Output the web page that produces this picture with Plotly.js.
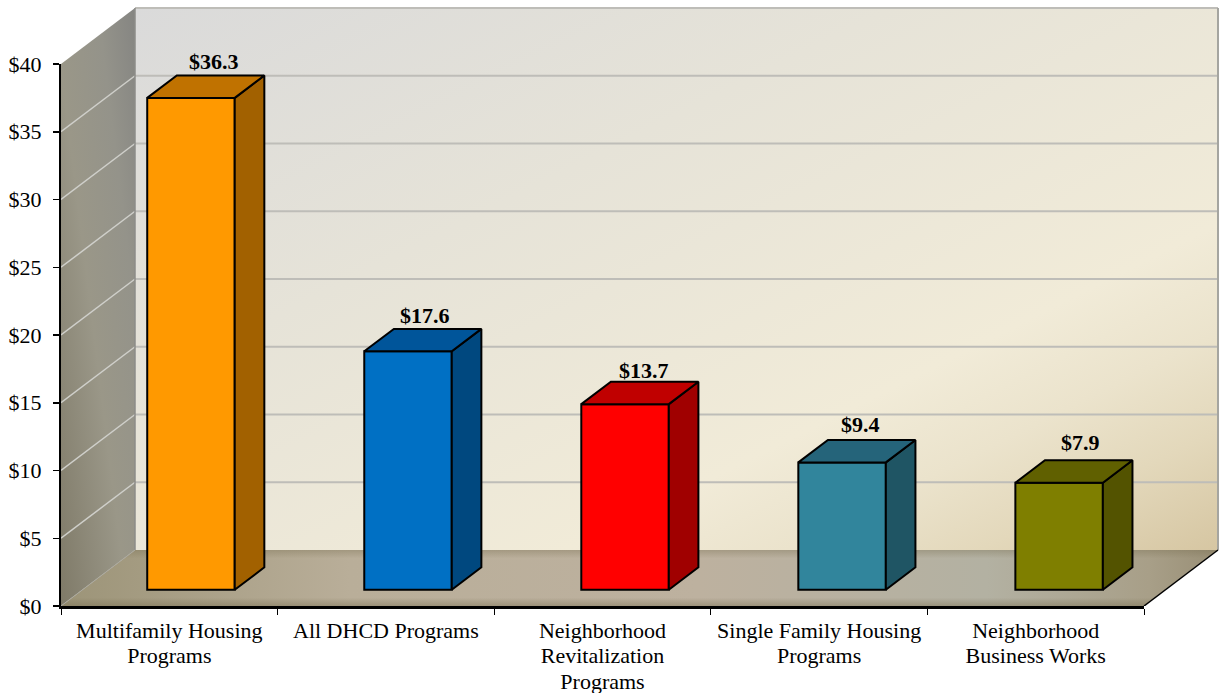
<!DOCTYPE html>
<html><head><meta charset="utf-8">
<script src="https://cdn.plot.ly/plotly-3.0.1.min.js"></script>
<style>html,body{margin:0;padding:0;background:#fff}#chart{width:1220px;height:693px}</style>
</head><body><div id="chart"></div>
<script>
// ---- data ----
const categories = ["Multifamily Housing<br>Programs","All DHCD Programs","Neighborhood<br>Revitalization<br>Programs","Single Family Housing<br>Programs","Neighborhood<br>Business Works"];
const values = [36.3,17.6,13.7,9.4,7.9];
const frontColors = ["#FF9900","#0070C4","#FF0000","#31859C","#7F7F00"];
const topColors = ["#C07200","#00559A","#C00000","#25647A","#606000"];
const sideColors = ["#A26100","#00487F","#A00000","#1F5564","#535300"];
const yTicks = [0,5,10,15,20,25,30,35,40];
const xBorders = [0,1,2,3,4,5];
const labelShiftX = [23,17,19,18,21];
const labelShiftY = [0,-1,-3,1,3];

// ---- projection constants ----
const PX_X = 216.6, PX_Y = 13.55;         // pixels per data unit
const ML = 61, MT = 4, MB = 87, W = 1220, H = 693;
const plotW = W-ML, plotH = H-MB-MT;
const xMax = plotW/PX_X, yMax = plotH/PX_Y;
const DX = 74/PX_X, DY = 56/PX_Y;         // depth of the scene
const Z0 = 0.29, Z1 = 0.69;               // bar front and back, as depth fraction
const BAR_W = 0.404, SLOT = 1.002;
const N = categories.length;
const idx = categories.map((_,i)=>i);
const base = Z0*DY;
const fc = i => (i+0.5)*SLOT+Z0*DX;       // centre of bar front
const fx = i => fc(i)-BAR_W/2;            // left of bar front
const bdx = (Z1-Z0)*DX, bdy = (Z1-Z0)*DY;

// gradient polygons rendered as images; a polygon may carry several stacked gradients
function gradImage(pts, layers){
  const xs=pts.map(p=>p[0]), ys=pts.map(p=>p[1]);
  const x0=Math.min(...xs),x1=Math.max(...xs),y0=Math.min(...ys),y1=Math.max(...ys);
  const poly=pts.map(p=>((p[0]-x0)/(x1-x0)*1000).toFixed(2)+","+((y1-p[1])/(y1-y0)*1000).toFixed(2)).join(" ");
  let defs="", body="";
  layers.forEach((l,k)=>{
    const st=l.stops.map(s=>`<stop offset="${s[0]}" stop-color="${s[1]}" stop-opacity="${s[2]===undefined?1:s[2]}"/>`).join("");
    defs+=`<linearGradient id="g${k}" x1="${l.v[0]}" y1="${l.v[1]}" x2="${l.v[2]}" y2="${l.v[3]}">${st}</linearGradient>`;
    body+=`<polygon points="${poly}" fill="url(#g${k})"/>`;
  });
  const svg=`<svg xmlns="http://www.w3.org/2000/svg" width="1000" height="1000" viewBox="0 0 1000 1000" preserveAspectRatio="none"><defs>${defs}</defs>${body}</svg>`;
  return {source:"data:image/svg+xml;base64,"+btoa(svg),xref:"x",yref:"y",x:x0,y:y1,sizex:x1-x0,sizey:y1-y0,sizing:"stretch",xanchor:"left",yanchor:"top",layer:"below"};
}
const images = [
  gradImage([[DX,DY],[N+DX,DY],[N+DX,40+DY],[DX,40+DY]],
    [{stops:[[0,"#DADADA"],[0.35,"#E6E3D8"],[0.7,"#F1EBD8"],[0.8,"#EBE3CC"],[0.89,"#E3D8BB"],[1,"#D6C6A2"]],v:[0,0,1,1]}]),
  gradImage([[0,0],[DX,DY],[DX,40+DY],[0,40]],
    [{stops:[[0,"#7F7A68"],[0.45,"#9A9788"],[0.75,"#94938A"],[1,"#858582"]],v:[0,1,1,0]}]),
  gradImage([[0,0],[N,0],[N+DX,DY],[DX,DY]],
    [{stops:[[0,"#9C9478"],[0.25,"#B9AE99"],[0.55,"#BDB19F"],[0.8,"#B3B1A2"],[0.94,"#A89F88"],[1,"#998F76"]],v:[0,0,1,0]},
     {stops:[[0,"#786E50",0.35],[0.15,"#786E50",0],[0.85,"#786E50",0],[1,"#786E50",0.45]],v:[0,0,0,1]}])
];

// grid as shapes, under the bars
const GRID="#BEBDB8";
const line=(x0,y0,x1,y1,c,w)=>({type:"line",xref:"x",yref:"y",x0,y0,x1,y1,layer:"between",line:{color:c,width:w}});
const shapes=[];
yTicks.forEach(t=>{
  if(t>0 && t<40) shapes.push(line(0,t,DX,t+DY,"#CFCFCA",1.5));
  if(t>0) shapes.push(line(DX,t+DY,N+DX,t+DY,GRID,2));
});
shapes.push(line(DX,DY,DX,40+DY,"#8C8C88",1.5));
shapes.push(line(N+DX,DY,N+DX,40+DY,"#A5A5A0",2));
shapes.push(line(0,0,DX,DY,"#ABA99F",1));

const traces=[];
traces.push({type:"bar",x:idx.map(fc),y:values,base:values.map(()=>base),width:BAR_W,
  marker:{color:frontColors,line:{color:"#000",width:2}},hoverinfo:"skip",showlegend:false});
idx.forEach(i=>{
  const t=values[i]+base, l=fx(i), r=l+BAR_W;
  traces.push({type:"scatter",mode:"lines",fill:"toself",fillcolor:sideColors[i],line:{color:"#000",width:2},
    x:[r,r+bdx,r+bdx,r,r],y:[base,base+bdy,t+bdy,t,base],hoverinfo:"skip",showlegend:false});
  traces.push({type:"scatter",mode:"lines",fill:"toself",fillcolor:topColors[i],line:{color:"#000",width:2},
    x:[l,l+bdx,r+bdx,r,l],y:[t,t+bdy,t+bdy,t,t],hoverinfo:"skip",showlegend:false});
});
// front-right floor edge
traces.push({type:"scatter",mode:"lines",x:[N,N+DX],y:[0,DY],line:{color:"#000",width:1.5},hoverinfo:"skip",showlegend:false});
// holds the visible axes: plotly only draws axes that carry a trace
traces.push({type:"scatter",mode:"markers",xaxis:"x2",yaxis:"y2",x:idx.map(i=>i+0.5),y:values,marker:{opacity:0,size:1},hoverinfo:"skip",showlegend:false});

const annotations=idx.map(i=>({xref:"x",yref:"y",x:fc(i),y:values[i]+base+bdy,
  text:"<b>$"+values[i].toFixed(1)+"</b>",showarrow:false,xanchor:"center",yanchor:"bottom",
  xshift:labelShiftX[i], yshift:labelShiftY[i],
  font:{family:"Liberation Serif",size:22,color:"#000"}}));

const font={family:"Liberation Serif",size:22,color:"#000"};
const layout={width:W,height:H,margin:{l:ML,r:0,t:MT,b:MB,pad:0},paper_bgcolor:"#fff",plot_bgcolor:"rgba(0,0,0,0)",
  showlegend:false,barmode:"overlay",images,shapes,annotations,font,
  // the scene: same scale as the visible axes, extended to hold the depth
  xaxis:{type:"linear",domain:[0,1],range:[0,xMax],fixedrange:true,visible:false},
  yaxis:{type:"linear",domain:[0,1],range:[0,yMax],fixedrange:true,visible:false},
  // the visible axes
  xaxis2:{type:"linear",anchor:"y2",domain:[0,N*PX_X/plotW],range:[0,N],fixedrange:true,showgrid:false,zeroline:false,
    showline:true,linecolor:"#000",linewidth:3,
    tickmode:"array",tickvals:idx.map(i=>i+0.5),ticktext:categories,ticks:"",tickfont:font,tickangle:0,ticklabelstandoff:3,
    minor:{tickmode:"array",tickvals:xBorders,ticks:"outside",ticklen:6,tickwidth:1,tickcolor:"#000",showgrid:false}},
  yaxis2:{type:"linear",anchor:"x2",domain:[0,40*PX_Y/plotH],range:[0,40],fixedrange:true,showgrid:false,zeroline:false,
    showline:true,linecolor:"#000",linewidth:2,
    tickmode:"array",tickvals:yTicks,ticktext:yTicks.map(t=>"$"+t),ticks:"outside",ticklen:6,tickwidth:1.5,tickcolor:"#000",
    tickfont:font,ticklabelstandoff:7}
};
Plotly.newPlot("chart",traces,layout,{staticPlot:true,displayModeBar:false}).then(gd=>{
  // tighten multi-line tick label spacing (plotly stores each line's offset as i*1.3em)
  gd.querySelectorAll(".x2tick text tspan.line").forEach(t=>{
    const d=parseFloat(t.getAttribute("dy"));
    if(d) t.setAttribute("dy",(d/1.3*1.14)+"em");
  });
});
</script></body></html>
